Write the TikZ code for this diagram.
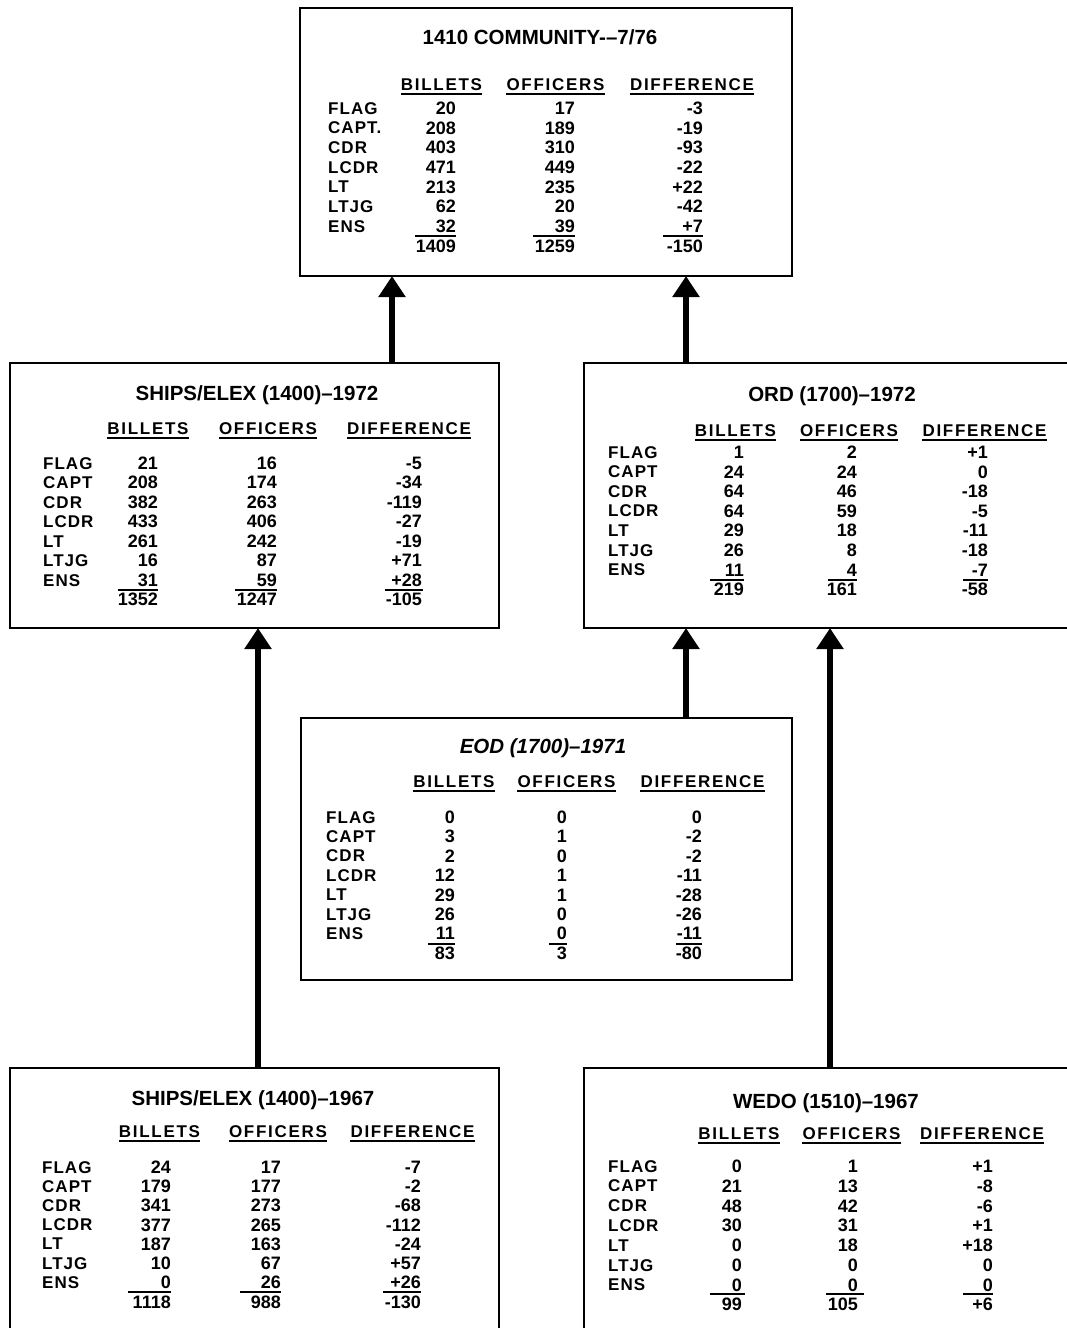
\documentclass[tikz,border=0pt]{standalone}
\usepackage{fontspec}
\setmainfont{Liberation Sans}
\newfontfamily\hdrfont{Liberation Sans}[LetterSpace=10]
\newfontfamily\lblfont{Liberation Sans}[LetterSpace=6]
\usetikzlibrary{arrows.meta}
\tikzset{
  box/.style={draw, rectangle, line width=2.6pt, inner sep=0pt, outer sep=0pt},
  ttl/.style={inner sep=0pt, font=\fontsize{20.5}{24}\selectfont\bfseries, text height=14pt, text depth=0pt},
  hdr/.style={inner sep=0pt, font=\fontsize{17}{20}\selectfont\hdrfont\bfseries, text height=12pt, text depth=0pt},
  lbl/.style={inner sep=0pt, anchor=west, font=\fontsize{17}{20}\selectfont\lblfont\bfseries, text height=12pt, text depth=0pt},
  num/.style={inner sep=0pt, anchor=east, font=\fontsize{18}{20}\selectfont\bfseries, text height=12.8pt, text depth=0pt},
  uline/.style={line width=1.9pt},
  sumline/.style={line width=1.7pt},
  arr/.style={line width=6.5pt, -{Triangle[width=26pt,length=21pt]}}
}
% #1 prefix, #2 label x, #3 billets right, #4 officers right, #5 diff right, #6 y0, #7 dy, #8 rows
\newcommand\drows[8]{%
  \foreach \l/\b/\o/\d [count=\i from 0] in {#8} {
    \node[lbl, name=#1l\i] at (#2, {#6+\i*#7}) {\l};
    \node[num, name=#1b\i] at (#3, {#6+\i*#7}) {\b};
    \node[num, name=#1o\i] at (#4, {#6+\i*#7}) {\o};
    \node[num, name=#1d\i] at (#5, {#6+\i*#7}) {\d};
  }}
% #1 prefix, #2 y, #3 bx, #4 ox, #5 dx, #6 b, #7 o, #8 d
\newcommand\dtotal[8]{%
  \node[num, name=#1tb] at (#3,#2) {#6};
  \node[num, name=#1to] at (#4,#2) {#7};
  \node[num, name=#1td] at (#5,#2) {#8};}
% #1 y, #2-#7 x ranges
\newcommand\dsum[7]{%
  \draw[sumline] (#2,#1) -- (#3,#1);
  \draw[sumline] (#4,#1) -- (#5,#1);
  \draw[sumline] (#6,#1) -- (#7,#1);}
% #1 prefix, #2 y, #3 #4 #5 centres
\newcommand\dhdr[5]{%
  \node[hdr, name=#1hb] at (#3,#2) {BILLETS};
  \node[hdr, name=#1ho] at (#4,#2) {OFFICERS};
  \node[hdr, name=#1hd] at (#5,#2) {DIFFERENCE};
  \foreach \h in {hb,ho,hd} {
    \draw[uline] ([yshift=-3.5pt]#1\h.south west) -- ([yshift=-3.5pt]#1\h.south east);
  }}
\begin{document}
\begin{tikzpicture}[x=1pt, y=-1pt]
\useasboundingbox (0,0) rectangle (1067,1328);
\fill[white] (0,0) rectangle (1067,1328);
\clip (0,0) rectangle (1067,1328);

% boxes
\node[box, minimum width=492pt, minimum height=268pt] (top) at (546,142) {};
\node[box, minimum width=489pt, minimum height=265pt] (s72) at (254.5,495.5) {};
\node[box, minimum width=488pt, minimum height=265pt] (ord) at (828,495.5) {};
\node[box, minimum width=491pt, minimum height=262pt] (eod) at (546.5,849) {};
\node[box, minimum width=489pt, minimum height=267pt] (s67) at (254.5,1201.5) {};
\node[box, minimum width=488pt, minimum height=267pt] (wedo) at (828,1201.5) {};

% arrows
\coordinate (ax1) at (392,0);
\coordinate (ax2) at (686,0);
\coordinate (ax3) at (258,0);
\coordinate (ax4) at (830,0);
\draw[arr] (ax1 |- s72.north) -- (ax1 |- top.south);
\draw[arr] (ax2 |- ord.north) -- (ax2 |- top.south);
\draw[arr] (ax3 |- s67.north) -- (ax3 |- s72.south);
\draw[arr] (ax2 |- eod.north) -- (ax2 |- ord.south);
\draw[arr] (ax4 |- wedo.north) -- (ax4 |- ord.south);

% ---- 1410 community
\node[ttl] (tTop) at (540,37) {1410 COMMUNITY-{}–7/76};
\dhdr{T}{84}{441.5}{555.5}{692}
\drows{T}{328}{456}{575}{703}{108}{19.7}{FLAG/20/17/-3, CAPT./208/189/-19, CDR/403/310/-93, LCDR/471/449/-22, LT/213/235/+22, LTJG/62/20/-42, ENS/32/39/+7}
\dsum{236}{415}{456}{533}{575}{663}{703}
\dtotal{T}{246}{456}{575}{703}{1409}{1259}{-150}

% ---- ships/elex 1972
\node[ttl] (tS72) at (257,393) {SHIPS/ELEX (1400)–1972};
\dhdr{A}{428}{148}{268}{409}
\drows{A}{43}{158}{277}{422}{463}{19.5}{FLAG/21/16/-5, CAPT/208/174/-34, CDR/382/263/-119, LCDR/433/406/-27, LT/261/242/-19, LTJG/16/87/+71, ENS/31/59/+28}
\dsum{590}{118}{158}{235}{277}{385}{423}
\dtotal{A}{599}{158}{277}{422}{1352}{1247}{-105}

% ---- ord 1972
\node[ttl] (tOrd) at (832,394) {ORD (1700)–1972};
\dhdr{B}{430}{735.5}{849}{984.5}
\drows{B}{608}{744}{857}{988}{452}{19.6}{FLAG/1/2/+1, CAPT/24/24/0, CDR/64/46/-18, LCDR/64/59/-5, LT/29/18/-11, LTJG/26/8/-18, ENS/11/4/-7}
\dsum{580}{710}{744}{828}{857}{963}{988}
\dtotal{B}{589}{744}{857}{988}{219}{161}{-58}

% ---- eod 1971
\node[ttl, font=\fontsize{20.5}{24}\selectfont\bfseries\itshape] (tEod) at (543,746) {EOD (1700)–1971};
\dhdr{C}{781}{454}{566.5}{702.5}
\drows{C}{326}{455}{567}{702}{817}{19.4}{FLAG/0/0/0, CAPT/3/1/-2, CDR/2/0/-2, LCDR/12/1/-11, LT/29/1/-28, LTJG/26/0/-26, ENS/11/0/-11}
\dsum{944}{428}{455}{549}{567}{676}{702}
\dtotal{C}{953}{455}{567}{702}{83}{3}{-80}

% ---- ships/elex 1967
\node[ttl] (tS67) at (253,1098) {SHIPS/ELEX (1400)–1967};
\dhdr{D}{1131}{159.5}{278}{412.5}
\drows{D}{42}{171}{281}{421}{1167}{19.2}{FLAG/24/17/-7, CAPT/179/177/-2, CDR/341/273/-68, LCDR/377/265/-112, LT/187/163/-24, LTJG/10/67/+57, ENS/0/26/+26}
\dsum{1292}{128}{171}{240}{281}{383}{421}
\dtotal{D}{1302}{171}{281}{421}{1118}{988}{-130}

% ---- wedo 1967
\node[ttl] (tWedo) at (826,1101) {WEDO (1510)–1967};
\dhdr{E}{1133}{739}{851.5}{982}
\drows{E}{608}{742}{858}{993}{1166}{19.8}{FLAG/0/1/+1, CAPT/21/13/-8, CDR/48/42/-6, LCDR/30/31/+1, LT/0/18/+18, LTJG/0/0/0, ENS/0/0/0}
\dsum{1294}{710}{745}{826}{864}{963}{993}
\dtotal{E}{1304}{742}{858}{993}{99}{105}{+6}
\end{tikzpicture}
\end{document}
